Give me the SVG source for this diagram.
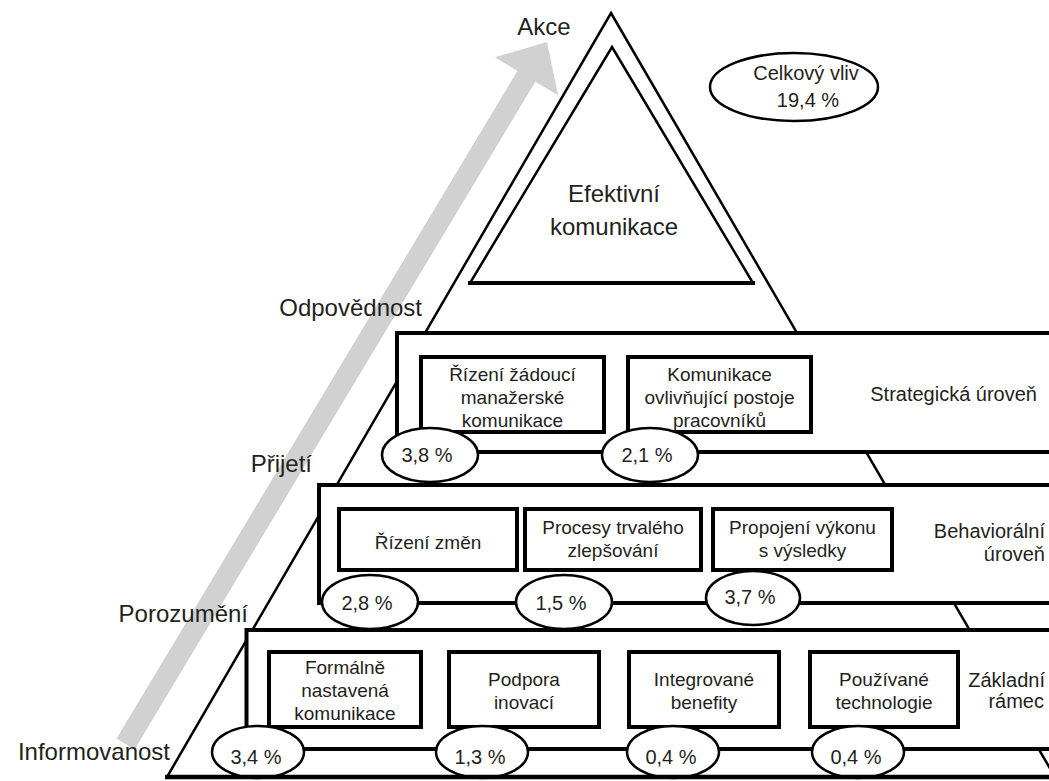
<svg xmlns="http://www.w3.org/2000/svg" width="1049" height="781" viewBox="0 0 1049 781">
<style>
text{font-family:"Liberation Sans",Arial,sans-serif;fill:#231f20}
.lbl{font-size:24px}
.bt{font-size:19px;text-anchor:middle}
.lv{font-size:20px}
.pt{font-size:20px;text-anchor:middle}
.edge{fill:#fff;stroke:#000;stroke-width:2.5;stroke-linejoin:miter}
.frame{fill:#fff;stroke:#000;stroke-width:4}
.box{fill:#fff;stroke:#000;stroke-width:4}
.pct{fill:#fff;stroke:#000;stroke-width:2.5}
</style>
<rect width="1049" height="781" fill="#fff"/>
<g id="connectors">
<polygon points="116.5,738.6 134.5,749.4 535.4,81.7 558.1,95.3 547,42 494.7,57.3 517.4,70.9" fill="#d1d1d1"/>
</g>
<g id="labels">
<text class="lbl" x="544" y="35" text-anchor="middle">Akce</text>
<text class="lbl" x="422" y="316" text-anchor="end">Odpovědnost</text>
<text class="lbl" x="312" y="472" text-anchor="end">Přijetí</text>
<text class="lbl" x="248" y="622" text-anchor="end">Porozumění</text>
<text class="lbl" x="170" y="760" text-anchor="end">Informovanost</text>
</g>
<g id="pyramid">
<polygon class="edge" points="611,13 1055,777 167,777"/>
</g>
<g id="apex">
<polygon class="edge" points="612,47 753,283 470,283"/>
<line x1="468" y1="283" x2="755" y2="283" stroke="#000" stroke-width="4"/>
<text class="lbl" x="614" y="202" text-anchor="middle">Efektivní</text>
<text class="lbl" x="614" y="235" text-anchor="middle">komunikace</text>
</g>
<g id="total">
<ellipse class="pct" cx="794" cy="87" rx="84" ry="34"/>
<text class="pt" x="806" y="80">Celkový vliv</text>
<text class="pt" x="808" y="107">19,4 %</text>
</g>
<g id="strategic">
<rect class="frame" x="397" y="333" width="720" height="119"/>
<text class="lv" x="1037" y="401" text-anchor="end">Strategická úroveň</text>
<g id="s1">
<rect class="box" x="421" y="357" width="183" height="75"/>
<text class="bt" x="512.5" y="381">Řízení žádoucí</text>
<text class="bt" x="512.5" y="404">manažerské</text>
<text class="bt" x="512.5" y="427">komunikace</text>
</g>
<g id="s2">
<rect class="box" x="628" y="357" width="183" height="75"/>
<text class="bt" x="719.5" y="381">Komunikace</text>
<text class="bt" x="719.5" y="404">ovlivňující postoje</text>
<text class="bt" x="719.5" y="427">pracovníků</text>
</g>
<g id="p38"><ellipse class="pct" cx="430" cy="455" rx="48" ry="27"/><text class="pt" x="427" y="462">3,8 %</text></g>
<g id="p21"><ellipse class="pct" cx="650" cy="455" rx="48" ry="27"/><text class="pt" x="647" y="462">2,1 %</text></g>
</g>
<g id="behavioral">
<rect class="frame" x="319" y="485" width="800" height="118"/>
<text class="lv" x="1045" y="538" text-anchor="end">Behaviorální</text>
<text class="lv" x="1045" y="561" text-anchor="end">úroveň</text>
<g id="b1">
<rect class="box" x="339" y="509" width="178" height="61"/>
<text class="bt" x="428" y="549">Řízení změn</text>
</g>
<g id="b2">
<rect class="box" x="525" y="509" width="176" height="61"/>
<text class="bt" x="613" y="534">Procesy trvalého</text>
<text class="bt" x="613" y="557">zlepšování</text>
</g>
<g id="b3">
<rect class="box" x="713" y="509" width="179" height="61"/>
<text class="bt" x="802.5" y="534">Propojení výkonu</text>
<text class="bt" x="802.5" y="557">s výsledky</text>
</g>
<g id="p28"><ellipse class="pct" cx="370" cy="602" rx="48" ry="27"/><text class="pt" x="367" y="610">2,8 %</text></g>
<g id="p15"><ellipse class="pct" cx="564" cy="602" rx="48" ry="27"/><text class="pt" x="561" y="610">1,5 %</text></g>
<g id="p37"><ellipse class="pct" cx="753" cy="598" rx="47" ry="27"/><text class="pt" x="750" y="604">3,7 %</text></g>
</g>
<g id="base">
<rect class="frame" x="246.5" y="630" width="900" height="119"/>
<text class="lv" x="1045" y="687" text-anchor="end">Základní</text>
<text class="lv" x="1044" y="708" text-anchor="end">rámec</text>
<g id="f1">
<rect class="box" x="269" y="652" width="152" height="75"/>
<text class="bt" x="345" y="674">Formálně</text>
<text class="bt" x="345" y="697">nastavená</text>
<text class="bt" x="345" y="720">komunikace</text>
</g>
<g id="f2">
<rect class="box" x="449" y="652" width="150" height="75"/>
<text class="bt" x="524" y="686">Podpora</text>
<text class="bt" x="524" y="709">inovací</text>
</g>
<g id="f3">
<rect class="box" x="629" y="652" width="150" height="75"/>
<text class="bt" x="704" y="686">Integrované</text>
<text class="bt" x="704" y="709">benefity</text>
</g>
<g id="f4">
<rect class="box" x="810" y="652" width="148" height="75"/>
<text class="bt" x="884" y="686">Používané</text>
<text class="bt" x="884" y="709">technologie</text>
</g>
<g id="p34"><ellipse class="pct" cx="258" cy="752" rx="46" ry="26"/><text class="pt" x="256" y="764">3,4 %</text></g>
<g id="p13"><ellipse class="pct" cx="482" cy="752" rx="46" ry="26"/><text class="pt" x="480" y="764">1,3 %</text></g>
<g id="p04a"><ellipse class="pct" cx="673" cy="752" rx="46" ry="26"/><text class="pt" x="671" y="764">0,4 %</text></g>
<g id="p04b"><ellipse class="pct" cx="858" cy="752" rx="46" ry="26"/><text class="pt" x="856" y="764">0,4 %</text></g>
<line x1="165" y1="777" x2="1049" y2="777" stroke="#000" stroke-width="4.5"/>
</g>
</svg>
